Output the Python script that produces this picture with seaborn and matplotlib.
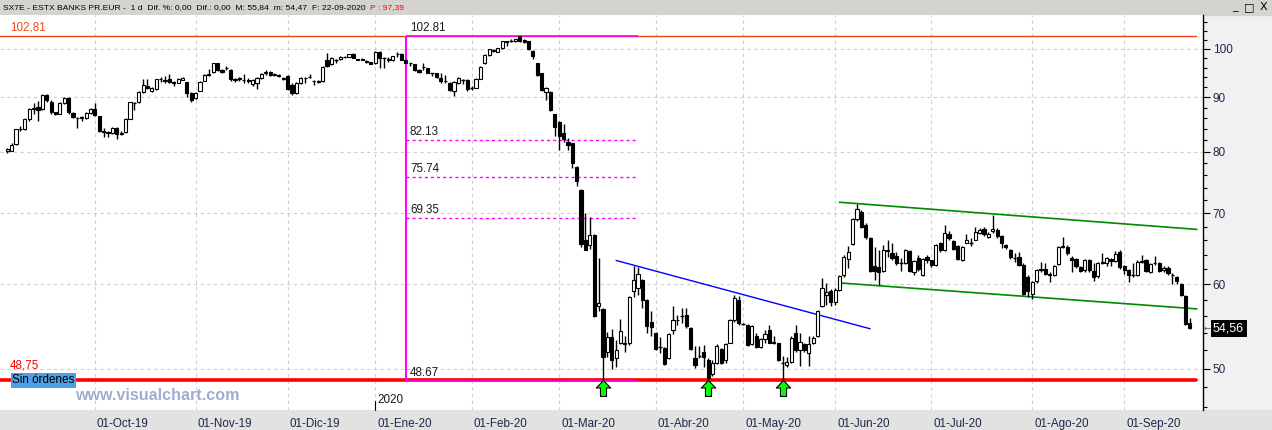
import numpy as np
import pandas as pd
import matplotlib
matplotlib.use("Agg")
import matplotlib.pyplot as plt
import matplotlib.transforms as mtransforms
from matplotlib.path import Path
from matplotlib.patches import Rectangle
from matplotlib.ticker import FixedLocator, NullFormatter
import seaborn as sns

# daily bars (open, high, low, close), one block per month
sep19 = [(80.2, 80.7, 79.8, 80.4), (80.2, 81.5, 80.1, 81.1), (81.3, 84.1, 81.2, 84.0), (84.0, 84.6, 83.6, 84.1),
         (84.1, 86.1, 83.9, 85.9), (85.9, 88.0, 85.5, 87.7), (87.7, 88.9, 86.8, 87.9), (88.2, 89.3, 85.5, 87.6),
         (87.8, 90.6, 87.6, 90.4), (90.4, 90.6, 89.2, 89.5), (89.2, 89.4, 86.9, 87.1), (87.1, 87.2, 86.7, 86.9),
         (86.9, 89.1, 86.8, 88.9), (88.9, 90.0, 88.7, 89.8), (89.8, 90.0, 86.9, 87.1), (87.0, 87.2, 86.0, 86.3),
         (86.0, 86.3, 84.3, 86.1), (86.1, 86.5, 85.6, 86.2), (86.0, 87.2, 85.9, 87.0), (87.0, 88.0, 86.8, 87.8)]
oct19 = [(87.8, 88.9, 86.4, 86.6), (86.4, 86.5, 83.5, 83.7), (83.6, 84.3, 82.6, 83.5), (83.5, 83.6, 82.6, 83.3),
         (83.3, 84.4, 83.1, 84.2), (84.2, 84.4, 82.3, 83.1), (83.2, 83.6, 82.9, 83.3), (83.5, 86.0, 83.4, 85.9),
         (85.9, 89.2, 85.8, 89.1), (89.0, 89.1, 87.6, 89.0), (89.1, 91.2, 88.9, 91.0), (91.0, 93.6, 90.8, 92.4),
         (92.3, 93.6, 91.6, 91.9), (91.2, 92.0, 91.0, 91.8), (91.6, 93.7, 91.5, 93.6), (93.6, 94.0, 93.0, 93.7),
         (93.5, 94.2, 92.9, 93.3), (93.6, 94.6, 92.8, 93.0), (93.0, 93.2, 92.3, 92.8), (92.9, 93.8, 92.8, 93.7),
         (93.5, 94.1, 93.4, 93.9), (93.0, 93.1, 90.0, 90.9), (90.9, 91.0, 89.2, 89.5)]
nov19 = [(89.8, 91.0, 89.6, 90.8), (91.3, 93.2, 91.2, 93.1), (93.3, 94.7, 93.2, 94.5), (94.5, 95.8, 94.3, 94.6),
         (95.1, 97.0, 94.9, 96.9), (96.9, 97.0, 95.2, 95.5), (95.6, 95.8, 94.8, 95.0), (95.9, 96.4, 95.6, 96.0),
         (95.5, 95.7, 93.3, 93.6), (93.6, 93.9, 93.0, 93.4), (93.6, 94.0, 93.2, 93.8), (93.5, 94.6, 92.8, 93.4),
         (93.2, 93.8, 92.9, 93.4), (92.7, 93.6, 92.3, 93.4), (92.8, 94.0, 91.6, 93.9), (93.9, 94.8, 93.7, 94.6),
         (94.9, 95.5, 94.5, 95.1), (95.0, 95.2, 94.3, 94.5), (94.5, 94.8, 94.2, 94.6), (94.5, 94.6, 94.0, 94.2),
         (93.8, 94.0, 93.4, 93.7)]
dic19 = [(94.3, 94.4, 91.5, 91.7), (92.5, 92.9, 90.4, 90.8), (90.9, 93.0, 90.7, 92.8), (92.9, 94.0, 92.7, 93.9),
         (93.8, 94.0, 92.8, 93.9), (94.0, 94.7, 93.8, 94.0), (93.2, 93.4, 92.4, 93.3), (93.2, 93.4, 92.8, 93.1),
         (93.2, 96.3, 93.0, 96.2), (97.7, 99.1, 96.1, 96.3), (96.8, 98.2, 96.6, 98.0), (97.7, 97.8, 96.9, 97.7),
         (97.8, 98.4, 97.7, 98.2), (98.2, 98.5, 98.0, 98.3), (98.3, 98.9, 98.2, 98.8), (98.9, 99.0, 98.0, 98.1),
         (97.8, 97.9, 97.6, 97.7), (97.8, 98.1, 97.6, 97.7), (97.3, 97.5, 97.0, 97.2), (97.1, 97.2, 96.7, 96.8)]
ene20 = [(96.9, 99.5, 96.8, 99.4), (99.4, 99.5, 95.9, 98.0), (98.0, 98.2, 95.9, 98.1), (97.7, 98.2, 97.2, 97.8),
         (97.5, 98.5, 97.3, 98.4), (98.8, 99.4, 98.3, 98.9), (98.9, 99.0, 97.6, 97.7), (97.7, 97.8, 96.9, 97.0),
         (96.9, 97.0, 96.3, 96.9), (96.7, 96.8, 95.3, 95.5), (95.6, 95.7, 94.9, 95.1), (96.2, 96.9, 95.6, 96.1),
         (95.9, 96.0, 94.8, 94.9), (94.8, 94.9, 94.2, 94.8), (94.8, 94.9, 93.8, 94.0), (93.9, 94.8, 92.9, 93.3),
         (93.3, 94.5, 92.9, 93.2), (92.8, 93.0, 91.3, 91.5), (91.3, 93.2, 90.3, 93.0), (92.9, 94.0, 92.7, 93.8),
         (93.5, 93.6, 92.6, 93.5), (93.5, 93.6, 91.2, 91.6)]
feb20 = [(91.9, 92.2, 91.5, 91.9), (91.9, 93.8, 91.8, 93.6), (93.7, 96.3, 93.6, 96.2), (96.9, 98.8, 96.7, 98.7),
         (98.6, 100.0, 98.5, 99.9), (99.6, 100.0, 99.2, 99.7), (99.4, 100.2, 99.3, 100.1), (100.1, 101.7, 100.0, 101.6),
         (101.5, 101.7, 100.5, 101.6), (101.8, 102.1, 101.4, 101.8), (101.6, 102.2, 101.5, 102.1), (102.7, 102.81, 101.5, 101.6),
         (102.0, 102.2, 101.3, 101.4), (101.6, 101.7, 99.8, 99.9), (99.6, 99.7, 97.9, 98.4), (96.9, 97.0, 94.3, 94.5),
         (94.8, 94.9, 91.2, 91.4), (91.1, 92.0, 89.4, 91.8), (91.1, 91.2, 87.4, 87.6), (86.8, 86.9, 82.8, 84.4)]
mar20 = [(85.4, 85.6, 80.3, 82.7), (83.3, 84.9, 81.7, 82.2), (81.7, 82.5, 80.3, 81.2), (81.5, 81.6, 77.2, 78.0),
         (77.4, 77.5, 74.2, 75.0), (73.6, 73.8, 65.0, 65.5), (66.1, 70.1, 64.6, 64.7), (65.4, 69.4, 64.8, 66.8),
         (66.8, 67.0, 55.9, 56.0), (57.2, 63.6, 56.7, 57.6), (56.9, 57.0, 48.7, 51.3), (51.8, 54.1, 51.3, 53.5),
         (53.5, 54.5, 50.0, 50.9), (51.1, 53.2, 50.2, 52.0), (52.8, 55.7, 52.7, 54.2), (52.7, 53.6, 51.8, 52.8),
         (52.9, 58.5, 52.6, 58.4), (59.1, 62.4, 58.4, 60.6), (59.6, 62.3, 58.7, 61.4), (60.6, 60.7, 57.0, 58.0),
         (58.0, 58.1, 54.0, 54.8), (55.3, 56.7, 53.7, 54.7)]
abr20 = [(54.0, 54.1, 52.0, 52.2), (52.4, 53.5, 51.7, 52.4), (52.3, 52.4, 50.4, 50.5), (51.1, 54.0, 51.0, 53.9),
         (54.4, 57.3, 53.9, 55.5), (55.5, 56.2, 55.0, 55.6), (56.0, 57.0, 55.2, 56.0), (56.2, 57.0, 54.6, 54.8),
         (54.6, 54.7, 52.0, 52.2), (51.1, 52.5, 50.1, 50.4), (51.4, 52.5, 51.1, 51.4), (51.8, 52.6, 50.2, 51.3),
         (50.9, 51.1, 48.8, 49.0), (49.4, 50.9, 49.2, 50.6), (50.6, 52.7, 50.5, 52.5), (52.2, 52.3, 50.5, 50.6),
         (50.9, 52.8, 50.6, 52.7), (52.9, 55.7, 52.8, 55.6), (55.5, 58.6, 55.3, 58.3), (58.0, 58.5, 54.9, 55.2)]
may20 = [(55.1, 55.2, 55.0, 55.1), (55.0, 55.1, 52.5, 52.6), (52.7, 54.9, 52.6, 54.8), (53.6, 54.0, 52.3, 52.4),
         (52.4, 53.4, 52.3, 53.3), (53.3, 54.3, 52.9, 53.9), (54.4, 54.9, 52.8, 52.9), (53.0, 53.6, 52.7, 52.9),
         (52.8, 52.9, 50.8, 50.9), (50.6, 51.4, 48.8, 50.6), (50.4, 51.3, 50.2, 50.7), (50.7, 53.7, 50.6, 53.4),
         (54.0, 54.9, 51.8, 52.1), (52.0, 54.0, 50.3, 53.0), (52.7, 52.9, 51.8, 52.0), (51.7, 53.6, 50.3, 52.7),
         (52.9, 53.6, 52.7, 53.4), (53.6, 56.8, 53.5, 56.6), (57.2, 60.8, 57.1, 59.6), (58.6, 60.2, 57.4, 59.0),
         (59.2, 59.4, 57.3, 57.7)]
jun20 = [(57.8, 59.5, 57.4, 59.3), (59.3, 61.2, 59.2, 61.1), (61.2, 63.9, 61.0, 63.7), (63.4, 65.2, 62.2, 64.4),
         (65.5, 69.3, 65.4, 69.2), (69.1, 71.4, 68.9, 70.6), (70.2, 70.5, 67.8, 67.9), (68.3, 68.6, 66.2, 66.5),
         (66.4, 66.5, 61.6, 61.8), (62.4, 65.0, 60.6, 61.8), (62.3, 64.6, 59.9, 61.7), (61.8, 65.4, 61.7, 64.6),
         (64.5, 66.1, 63.7, 64.6), (64.2, 65.6, 63.3, 63.6), (63.8, 64.4, 62.6, 62.9), (62.9, 63.5, 61.8, 62.9),
         (62.9, 64.8, 62.7, 64.6), (64.5, 64.6, 61.6, 61.8), (61.6, 63.2, 61.3, 63.1), (63.6, 64.0, 61.8, 62.0),
         (61.3, 63.6, 61.1, 63.4), (63.7, 64.0, 62.9, 63.2)]
jul20 = [(63.2, 63.3, 62.3, 62.6), (62.6, 65.5, 62.4, 65.4), (65.7, 65.8, 64.4, 64.6), (64.7, 68.2, 64.5, 67.1),
         (67.0, 67.3, 66.0, 66.3), (65.9, 66.0, 64.6, 64.8), (65.2, 65.3, 63.2, 63.4), (63.3, 65.2, 63.1, 65.1),
         (65.7, 66.9, 65.6, 66.1), (65.7, 66.4, 65.2, 65.7), (66.1, 67.9, 66.0, 67.2), (67.1, 67.8, 66.9, 67.5),
         (67.6, 67.9, 66.7, 67.0), (66.5, 67.2, 66.3, 67.0), (67.4, 69.8, 67.1, 67.6), (67.5, 67.8, 66.4, 66.7),
         (66.7, 66.8, 64.9, 65.6), (65.4, 65.5, 64.8, 65.0), (64.7, 64.8, 63.4, 63.7), (63.6, 64.2, 63.0, 63.6),
         (63.7, 64.4, 62.4, 62.6), (62.6, 62.8, 58.6, 58.8), (61.0, 61.2, 58.4, 59.1)]
ago20 = [(58.8, 60.5, 58.1, 60.3), (60.4, 62.0, 60.2, 61.9), (61.9, 63.0, 61.7, 62.0), (62.0, 62.8, 61.2, 61.4),
         (61.4, 61.6, 60.3, 61.3), (61.3, 62.6, 61.1, 62.4), (62.7, 65.2, 62.6, 65.0), (65.1, 66.5, 64.9, 65.2),
         (65.1, 65.4, 64.0, 64.2), (63.6, 63.8, 61.7, 63.3), (63.4, 63.5, 62.2, 62.4), (62.3, 62.5, 61.6, 61.8),
         (61.9, 63.4, 61.7, 63.2), (63.2, 63.4, 61.6, 61.9), (61.8, 62.9, 60.4, 61.0), (61.1, 63.0, 60.9, 62.8),
         (62.9, 64.2, 62.7, 63.0), (62.8, 63.7, 62.5, 63.5), (63.4, 63.6, 62.5, 63.1), (63.1, 64.5, 63.0, 64.1),
         (64.3, 64.6, 62.1, 62.3)]
sep20 = [(62.4, 62.6, 61.4, 61.9), (61.9, 62.1, 60.3, 61.2), (61.2, 62.9, 61.0, 61.2), (61.3, 63.2, 61.1, 63.0),
         (63.0, 64.0, 62.8, 63.1), (63.2, 63.4, 61.6, 61.8), (61.6, 62.9, 61.5, 62.7), (62.8, 63.8, 62.6, 62.9),
         (62.9, 63.0, 61.6, 61.8), (61.9, 62.4, 61.6, 62.2), (62.2, 62.4, 61.3, 61.5), (61.2, 61.5, 60.1, 61.2),
         (61.0, 61.1, 60.0, 60.4), (60.1, 60.2, 58.5, 58.7), (58.5, 58.6, 54.9, 55.1), (55.2, 55.84, 54.47, 54.56)]

holidays = ["2019-12-25", "2019-12-26", "2020-01-01", "2020-04-10", "2020-04-13"]
meses = {1: "Ene", 2: "Feb", 3: "Mar", 4: "Abr", 5: "May", 6: "Jun",
         7: "Jul", 8: "Ago", 9: "Sep", 10: "Oct", 11: "Nov", 12: "Dic"}

# drawing objects
fib_levels = [102.81, 82.13, 75.74, 69.35, 48.67]
fib_bars = (91, 144)
resistance = 102.81
support = 48.75
arrow_bars = [136, 160, 177]
blue_x, blue_y = [139, 197], [63.2, 54.5]
green_x = [190, 271.6]
green_up, green_dn = [71.7, 67.6], [60.2, 56.9]
last_price = 54.56

bars = sep19 + oct19 + nov19 + dic19 + ene20 + feb20 + mar20 + abr20 + may20 + jun20 + jul20 + ago20 + sep20
dates = pd.bdate_range("2019-09-03", "2020-09-22")
dates = dates[~dates.isin(pd.to_datetime(holidays))]
df = pd.DataFrame(bars, columns=["open", "high", "low", "close"], index=dates[:len(bars)])
df["i"] = np.arange(len(df))
df["high"] = np.maximum(df["high"], df[["open", "close"]].max(axis=1))
df["low"] = np.minimum(df["low"], df[["open", "close"]].min(axis=1))

month_start = df.index.to_series().dt.month.diff().fillna(0) != 0
ticks = df.loc[month_start, "i"].values
tick_labels = ["01-%s-%s" % (meses[d.month], d.strftime("%y")) for d in df.index[month_start]]

sns.set_theme(style="white")
plt.rcParams["font.family"] = ["Liberation Sans", "DejaVu Sans"]

W, H = 1272, 430
fig = plt.figure(figsize=(W / 100, H / 100), dpi=100)
fig.patch.set_facecolor("#f1f1f1")
fig.add_artist(Rectangle((0, 1 - 15 / H), 1, 15 / H, transform=fig.transFigure, color="#d5d3d0", zorder=-2))
fig.add_artist(Rectangle((0, 0), 1, 20 / H, transform=fig.transFigure, color="#e2e2e2", zorder=-2))
ax = fig.add_axes([0, 20 / H, 1203 / W, 395 / H])
ax.set_facecolor("white")

ax.set_yscale("log")
ax.set_ylim(45.7, 107.6)
ax.set_xlim(-1.67, 273.0)

# grid and axes
ax.set_xticks(ticks)
ax.set_xticklabels(tick_labels)
ax.set_yticks([50, 60, 70, 80, 90, 100])
ax.set_yticklabels(["50", "60", "70", "80", "90", "100"])
ax.yaxis.set_minor_locator(FixedLocator([v for v in range(46, 108, 2) if v % 10]))
ax.yaxis.set_minor_formatter(NullFormatter())
ax.grid(True, which="major", color="#cfcfcf", ls=(0, (3, 3)), lw=0.8)
ax.set_axisbelow(True)
ax.yaxis.tick_right()
for s in ["left", "top", "bottom"]:
    ax.spines[s].set_visible(False)
ax.spines["right"].set_color("black")
ax.spines["right"].set_linewidth(1.0)
ax.tick_params(axis="y", which="major", direction="out", length=5, width=0.8, color="black",
               labelsize=8.5, labelcolor="#1c2a48", pad=2)
ax.tick_params(axis="y", which="minor", direction="out", length=2.6, width=0.8, color="black")
ax.tick_params(axis="x", direction="out", length=4.5, width=0.8, color="black",
               labelsize=8.4, labelcolor="#1c2a48", pad=1)
for lbl in ax.get_xticklabels():
    lbl.set_horizontalalignment("left")
    lbl.set_transform(lbl.get_transform() + mtransforms.ScaledTranslation(2 / 100, 0, fig.dpi_scale_trans))

# horizontal levels
ax.axhline(resistance, xmax=1196 / 1203, color="#ee4411", lw=1.0, zorder=2)
ax.axhline(support, xmax=1196 / 1203, color="#ff0000", lw=2.6, zorder=2)
for lv in fib_levels:
    solid = lv in (fib_levels[0], fib_levels[-1])
    ax.hlines(lv, fib_bars[0], fib_bars[1], color="#ff00ff", lw=1.2 if solid else 1.0,
              ls="-" if solid else (0, (2.2, 2.2)), zorder=2.5)
    ax.annotate("%.2f" % lv, xy=(fib_bars[0], lv), xytext=(4, 2), textcoords="offset pixels",
                fontsize=8.4, color="#1a1a1a", va="bottom", ha="left")
ax.vlines(fib_bars[0], fib_levels[-1], fib_levels[0], color="#ff00ff", lw=1.5, zorder=2.5)

# trend lines
sns.lineplot(x=blue_x, y=blue_y, ax=ax, color="#0000ff", lw=1.0, zorder=2)
sns.lineplot(x=green_x, y=green_up, ax=ax, color="#008a00", lw=1.2, zorder=2)
sns.lineplot(x=green_x, y=green_dn, ax=ax, color="#008a00", lw=1.2, zorder=2)

# candles
x = df["i"].values
o, c = df["open"].values, df["close"].values
lo_b = np.minimum(o, c)
hb = np.abs(c - o)
doji = hb < 0.06
ax.vlines(x, df["low"], df["high"], color="black", lw=1.0, zorder=3)
face = np.where(c >= o, "white", "black")
ax.bar(x[~doji], hb[~doji], bottom=lo_b[~doji], width=0.72, color=face[~doji],
       edgecolor="black", linewidth=0.8, zorder=4)
ax.hlines(c[doji], x[doji] - 0.4, x[doji] + 0.4, color="black", lw=1.0, zorder=4)

# green arrows under the lows
arrow = Path([(0, 0), (0.45, -0.47), (0.19, -0.47), (0.19, -1.0), (-0.19, -1.0),
              (-0.19, -0.47), (-0.45, -0.47), (0, 0)],
             [Path.MOVETO] + [Path.LINETO] * 6 + [Path.CLOSEPOLY])
ax.plot(arrow_bars, [support] * len(arrow_bars), ls="none", marker=arrow, ms=23,
        mfc="#00ff00", mec="black", mew=0.8, zorder=6, clip_on=False)

# texts on the left / price axis side
ytr = ax.get_yaxis_transform()
ax.annotate("102,81", xy=(0, resistance), xycoords=ytr, xytext=(10, 3), textcoords="offset pixels",
            color="#f04a22", fontsize=8.4, va="bottom")
ax.annotate("48,75", xy=(0, support), xycoords=ytr, xytext=(10, 9), textcoords="offset pixels",
            color="#ff0000", fontsize=8.4, va="bottom", zorder=5)
ax.annotate("Sin órdenes", xy=(0, support), xycoords=ytr, xytext=(12, 0), textcoords="offset pixels",
            color="black", fontsize=8.4, va="center", zorder=7,
            bbox=dict(boxstyle="square,pad=0.12", fc="#4c9fe2", ec="none"))
ax.annotate(("%.2f" % last_price).replace(".", ","), xy=(1, last_price), xycoords=ytr, xytext=(10, 0),
            textcoords="offset pixels", color="white", fontsize=9, va="center", ha="left",
            bbox=dict(boxstyle="square,pad=0.2", fc="black", ec="none"), annotation_clip=False)
ax.annotate("←", xy=(1, last_price), xycoords=ytr, xytext=(1, 0), textcoords="offset pixels",
            color="#555555", fontsize=6, va="center", ha="left", annotation_clip=False,
            family="DejaVu Sans")

xtr = ax.get_xaxis_transform()
ax.plot([ticks[3], ticks[3]], [0, 9 / 395], transform=xtr, color="black", lw=0.8, clip_on=False)
ax.text(ticks[3], 4 / 395, "2020", transform=xtr + mtransforms.ScaledTranslation(2 / 100, 0, fig.dpi_scale_trans),
        fontsize=8.4, color="#1a1a1a", va="bottom", ha="left")

fig.text(75 / W, 1 - 395 / H, "www.visualchart.com", fontsize=11.6, weight="bold",
         color="#a3acd0", va="center", ha="left")

# title bar
t = fig.text(3 / W, 1 - 7.5 / H,
             "SX7E - ESTX BANKS PR.EUR -  1 d  Dif. %: 0,00  Dif.: 0,00  M: 55,84  m: 54,47  F: 22-09-2020",
             fontsize=6.1, color="black", va="center", ha="left")
fig.canvas.draw()
bb = t.get_window_extent()
fig.text((bb.x1 + 4) / W, 1 - 7.5 / H, "P : 97,39", fontsize=6.1, color="#ff0000", va="center", ha="left")
for xp, s in [(1235, "_"), (1249, "□"), (1263, "X")]:
    fig.text(xp / W, 1 - 7.5 / H, s, fontsize=8, color="black", va="center", ha="center", family="DejaVu Sans")

fig.savefig("out.png", dpi=100, facecolor=fig.get_facecolor())
